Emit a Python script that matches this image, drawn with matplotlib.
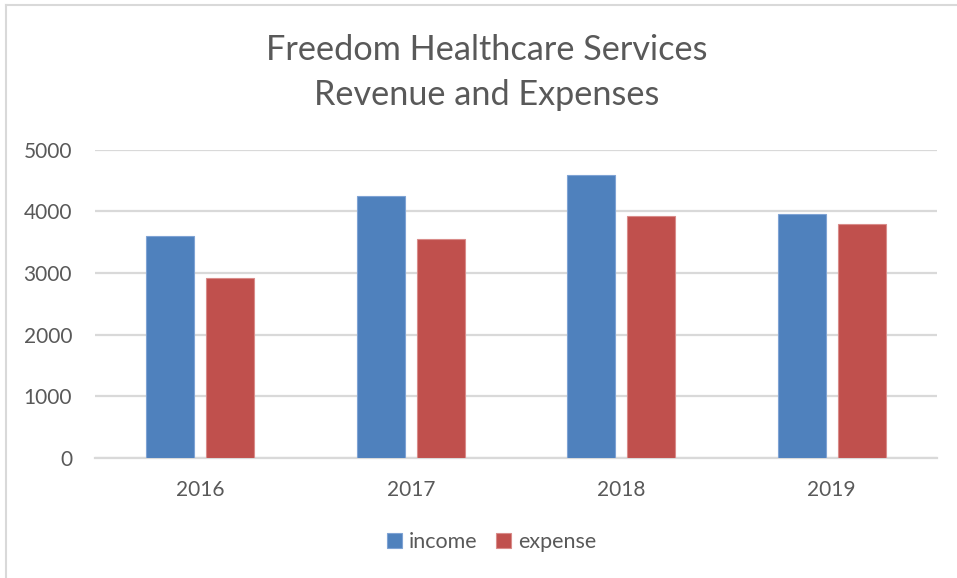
import matplotlib
matplotlib.use("Agg")
import matplotlib.pyplot as plt
import numpy as np
from matplotlib.lines import Line2D

years = ["2016", "2017", "2018", "2019"]
income = [3600, 4250, 4580, 3960]
expense = [2920, 3550, 3930, 3800]
yticks = [0, 1000, 2000, 3000, 4000, 5000]

plt.rcParams['font.family'] = ['Lato', 'DejaVu Sans']
TXT = '#595959'
GRID = '#d9d9d9'

fig = plt.figure(figsize=(9.57, 5.78), dpi=100)
ax = fig.add_axes([95/957, 1-458/578, (937-95)/957, (458-149.5)/578])

x = np.arange(len(years))
w = 0.226
off = 0.1425
ax.bar(x - off, income, w, color='#4F81BD', edgecolor='#7FA3D4', linewidth=0.8, label='income', zorder=3)
ax.bar(x + off, expense, w, color='#C0504D', edgecolor='#D98C8A', linewidth=0.8, label='expense', zorder=3)

ax.set_xlim(-0.5, len(years) - 0.5)
ax.set_ylim(0, 5000)
ax.set_yticks(yticks)
ax.set_yticklabels([str(v) for v in yticks])
ax.set_xticks(x)
ax.set_xticklabels(years)
ax.yaxis.grid(True, color=GRID, linewidth=1.6, zorder=0)
ax.set_axisbelow(True)
for s in ['top', 'right', 'left']:
    ax.spines[s].set_visible(False)
ax.spines['bottom'].set_color(GRID)
ax.spines['bottom'].set_linewidth(1.6)
ax.tick_params(axis='both', length=0, colors=TXT, labelsize=15)
ax.tick_params(axis='y', pad=16.5)
ax.tick_params(axis='x', pad=16)

fig.text(487/957, 1-50/578, "Freedom Healthcare Services", ha='center', va='center', fontsize=24.7, color=TXT)
fig.text(487/957, 1-95/578, "Revenue and Expenses", ha='center', va='center', fontsize=24.7, color=TXT)

leg = fig.legend(loc='center', bbox_to_anchor=(491.5/957, 1-542/578), ncol=2, frameon=False,
                 fontsize=15.5, handlelength=0.7, handleheight=0.7, handletextpad=0.3,
                 columnspacing=0.9)
for t in leg.get_texts():
    t.set_color(TXT)

fig.add_artist(Line2D([6/957, 1], [1-5/578, 1-5/578], color=GRID, linewidth=1.5, transform=fig.transFigure))
fig.add_artist(Line2D([6/957, 6/957], [0, 1-5/578], color=GRID, linewidth=1.5, transform=fig.transFigure))

fig.savefig("out.png", dpi=100)
